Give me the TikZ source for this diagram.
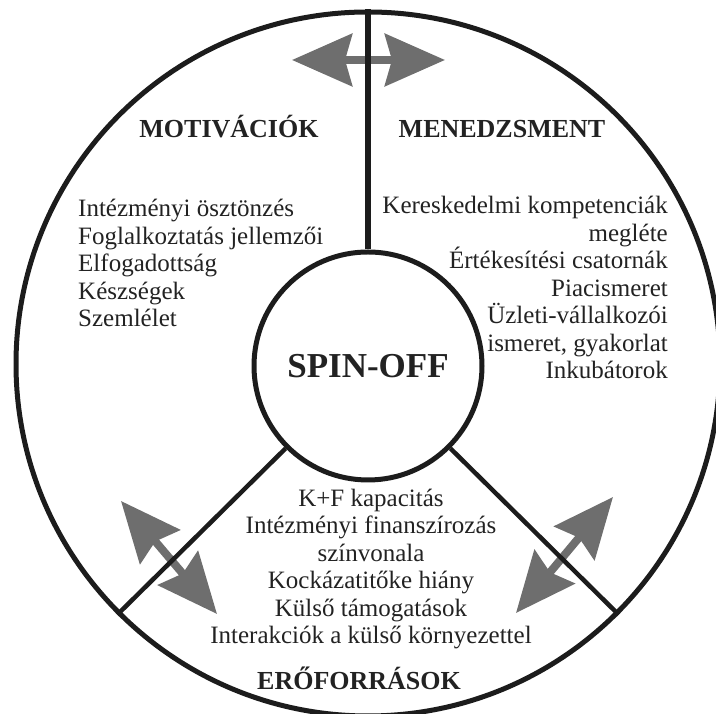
\documentclass[tikz,border=0pt]{standalone}
\usepackage{fontspec}
\setmainfont{Liberation Serif}
\usepackage{tikz}
\usetikzlibrary{arrows.meta,positioning}
\definecolor{wheelBlack}{RGB}{28,28,28}
\definecolor{arrowGray}{RGB}{110,110,110}
\definecolor{textDark}{RGB}{34,34,34}

\begin{document}
\begin{tikzpicture}[x=1pt,y=1pt,
  ring/.style={circle, draw=wheelBlack, line width=5pt, inner sep=0pt},
  divider/.style={wheelBlack, line width=4.5pt},
  biarrow/.style={arrowGray, line width=8pt,
    {Stealth[length=60pt,width=52pt,inset=7pt]}-{Stealth[length=60pt,width=52pt,inset=7pt]}},
  heading/.style={text=textDark, font=\fontsize{26}{30}\selectfont\bfseries, anchor=base},
  itemlist/.style={text=textDark, font=\fontsize{25}{27.5}\selectfont, inner sep=0pt}]
\useasboundingbox (0,0) rectangle (716,714);

% wheel and hub
\node[ring, minimum size=704pt] (wheel) at (368,350) {};
\node[ring, minimum size=228pt, text=textDark,
  font=\fontsize{35}{40}\selectfont\bfseries] (hub) at (368,348) {SPIN-OFF};

% two-way arrows
\coordinate (topL) at (292,654);
\coordinate (topR) at (445,654);
\coordinate (leftA) at (121,213);
\coordinate (leftB) at (217,100);
\coordinate (rightA) at (613,217);
\coordinate (rightB) at (516,101);
\draw[biarrow] (topL) -- (topR);
\draw[biarrow] (leftA) -- (leftB);
\draw[biarrow] (rightA) -- (rightB);

% dividers
\draw[divider, line width=6pt] (hub.north) -- (wheel.north);
\draw[divider] (hub.225) -- (wheel.225);
\draw[divider] (hub.-45) -- (wheel.-45);

% headings
\node[heading] (motiv) at (229,576) {MOTIVÁCIÓK};
\node[heading] (mened) at (502,576) {MENEDZSMENT};
\node[heading] (eroforr) at (359,24) {ERŐFORRÁSOK};

% lists
\node[itemlist, anchor=west, align=left] (motivList) at (78,451)
  {Intézményi ösztönzés\\Foglalkoztatás jellemzői\\Elfogadottság\\Készségek\\Szemlélet};
\node[itemlist, anchor=east, align=right] (menedList) at (668,426.5)
  {Kereskedelmi kompetenciák\\megléte\hspace*{12pt}\\Értékesítési csatornák\\Piacismeret\\Üzleti-vállalkozói\\ismeret, gyakorlat\\Inkubátorok};
\node[itemlist, align=center] (eroList) at (371,145)
  {K+F kapacitás\\Intézményi finanszírozás\\színvonala\\Kockázatitőke hiány\\Külső támogatások\\Interakciók a külső környezettel};
\end{tikzpicture}
\end{document}
